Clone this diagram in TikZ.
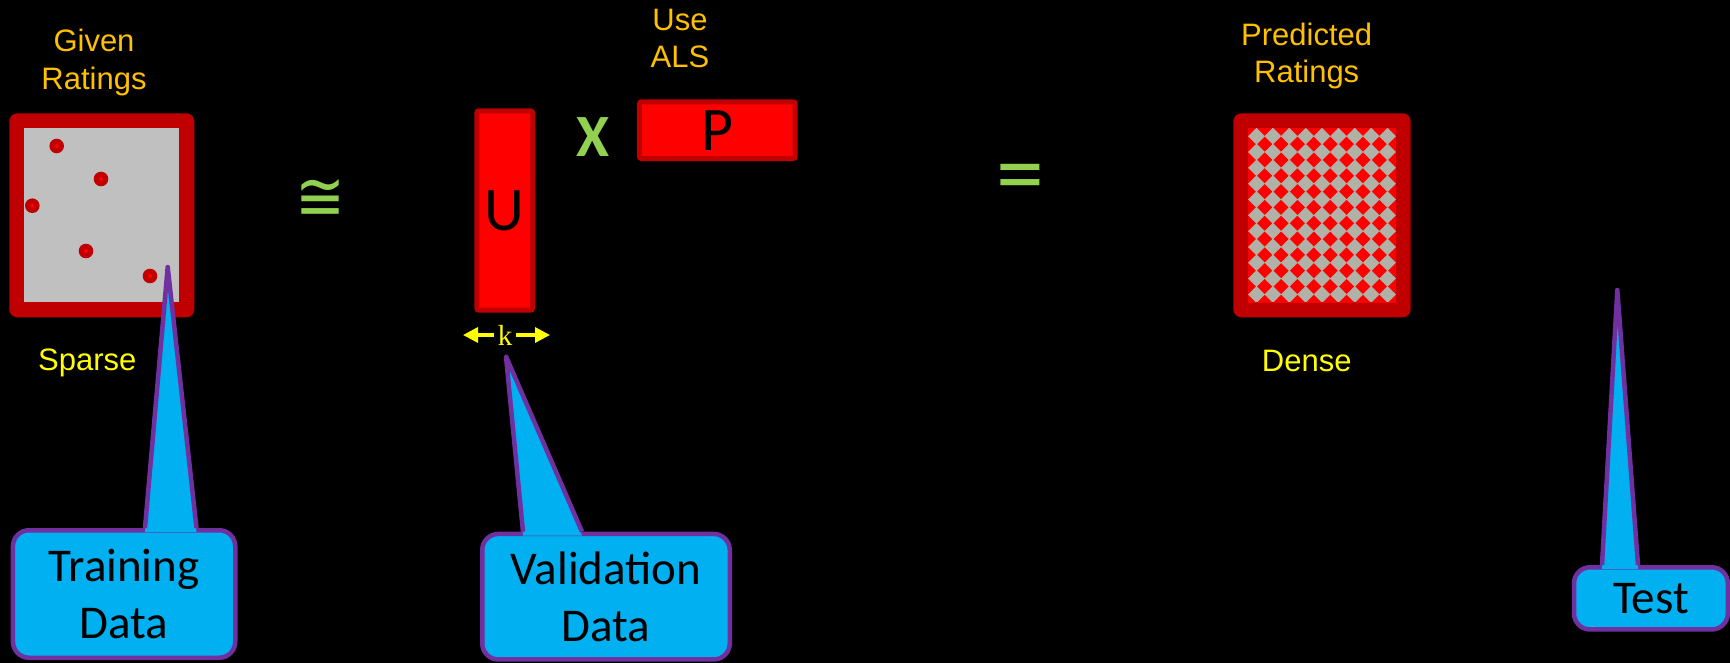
\documentclass[tikz,border=0pt]{standalone}
\usepackage{fontspec}
\usepackage{graphicx}
\setmainfont{Liberation Sans}
\newfontfamily\calib{Carlito}
\newfontfamily\djv{DejaVu Sans}
\newfontfamily\tms{Liberation Serif}
\usetikzlibrary{arrows.meta,calc}
\definecolor{mdark}{HTML}{C00000}
\definecolor{mred}{HTML}{FF0000}
\definecolor{mgray}{HTML}{C0C0C0}
\definecolor{mgraytwo}{HTML}{B0B2A8}
\definecolor{cgreen}{HTML}{92D050}
\definecolor{corange}{HTML}{FFC000}
\definecolor{cyellow}{HTML}{FFFF00}
\definecolor{ccyan}{HTML}{00B0F0}
\definecolor{cpurple}{HTML}{7030A0}
\tikzset{
  frame/.style={fill=mdark, rounded corners=8pt, inner sep=0pt, draw=none},
  innerfill/.style={inner sep=0pt, draw=none},
  dot/.style={circle, fill=mdark, minimum size=14.6pt, inner sep=0pt,
    path picture={\fill[mred] (path picture bounding box.center) circle (2pt);}},
  vec/.style={draw=mdark, line width=5pt, fill=mred, rounded corners=2pt, inner sep=0pt,
    font=\calib\fontsize{62}{62}\selectfont, text=black},
  lbl/.style={font=\fontsize{31}{37.6}\selectfont, align=center, inner sep=0pt},
  karrow/.style={draw=cyellow, line width=3.3pt, -{Triangle[length=15pt,width=15pt]}},
  callbox/.style={draw=cpurple, line width=4.5pt, fill=ccyan, rounded corners=16pt, inner sep=0pt,
    font=\calib\fontsize{47}{56.6}\selectfont, align=center, text=black},
  ptr/.style={draw=cpurple, line width=4.5pt, line join=round},
  sym/.style={text=cgreen, inner sep=0pt}
}
\begin{document}
\begin{tikzpicture}[x=1pt,y=-1pt]
\fill[black] (0,0) rectangle (1730,663);
\useasboundingbox (0,0) rectangle (1730,663);

% given ratings matrix
\node[frame, minimum width=185pt, minimum height=204pt] (given) at (101.8,215.3) {};
\node[innerfill, fill=mgray, minimum width=155pt, minimum height=174pt] (giveninner) at (given.center) {};
\foreach \p [count=\i] in {(56.7,146),(101,179),(32.3,205.7),(86,251),(150,276)}
  \node[dot] (d\i) at \p {};

\node[lbl, text=corange] (givenlbl) at (94,62.4) {Given\\Ratings};
\node[lbl, text=cyellow] (sparse) at (87.3,362.5) {Sparse};

% approx
\node[sym, font=\djv\fontsize{58}{58}\selectfont] (approx) at (320.3,200.3) {\resizebox{50pt}{41pt}{≅}};

% U and P
\node[vec, minimum width=55.7pt, minimum height=199.4pt] (U) at (504.7,210.5) {U};
\node[vec, minimum width=155.7pt, minimum height=56.7pt] (P) at (717.3,130.2) {P};
\node[sym, font=\calib\bfseries\fontsize{60}{60}\selectfont] (times) at (592.7,136.7) {X};
\node[lbl, text=corange] (als) at (680,38.3) {Use\\ALS};

% k arrows
\node[text=cyellow, font=\tms\fontsize{29}{29}\selectfont, inner sep=4pt] (k) at (505,335) {k};
\coordinate (kl) at (463,335);
\coordinate (kr) at (550,335);
\draw[karrow] (k.west) -- (kl);
\draw[karrow] (k.east) -- (kr);

% equals
\node[sym, font=\calib\fontsize{96}{96}\selectfont] (eq) at (1020.3,185.2) {=};

% dense matrix
\node[frame, minimum width=177.4pt, minimum height=204pt] (dense) at (1322,215.3) {};
\node[innerfill, fill=mgraytwo, minimum width=147.4pt, minimum height=174pt] (denseinner) at (dense.center) {};
\begin{scope}
\clip (denseinner.south west) rectangle (denseinner.north east);
\foreach \i in {0,...,9}
  \foreach \j in {0,...,11}
    \fill[mred] ({1248.3+16.38*\i},{128.3+15.82*\j}) +(-7.5,0) -- +(0,-7.5) -- +(7.5,0) -- +(0,7.5) -- cycle;
\end{scope}
\node[lbl, text=corange] (predlbl) at (1306.7,55.8) {Predicted\\Ratings};
\node[lbl, text=cyellow] (denselbl) at (1306.7,360.8) {Dense};

% callouts
\node[callbox, minimum width=222.3pt, minimum height=127.5pt] (train) at (124.1,594) {Training\\Data};
\node[callbox, minimum width=247.5pt, minimum height=125.5pt] (valid) at (606,596.7) {Validation\\Data};
\node[callbox, minimum width=153.8pt, minimum height=62.2pt] (test) at (1650.9,598.35) {Test};

\coordinate (trtip) at (167.7,267);
\coordinate (vatip) at (506,356.5);
\coordinate (tetip) at (1617.3,290);

\fill[ccyan] ($(train.north)+(20.9,4)$) -- (trtip) -- ($(train.north)+(72.4,4)$) -- cycle;
\draw[ptr] ($(train.north)+(20.9,0)$) -- (trtip) -- ($(train.north)+(72.4,0)$);

\fill[ccyan] ($(valid.north)+(-83,4)$) -- (vatip) -- ($(valid.north)+(-24,4)$) -- cycle;
\draw[ptr] ($(valid.north)+(-83,0)$) -- (vatip) -- ($(valid.north)+(-24,0)$);

\fill[ccyan] ($(test.north)+(-48.9,4)$) -- (tetip) -- ($(test.north)+(-12.9,4)$) -- cycle;
\draw[ptr] ($(test.north)+(-48.9,0)$) -- (tetip) -- ($(test.north)+(-12.9,0)$);
\end{tikzpicture}
\end{document}
